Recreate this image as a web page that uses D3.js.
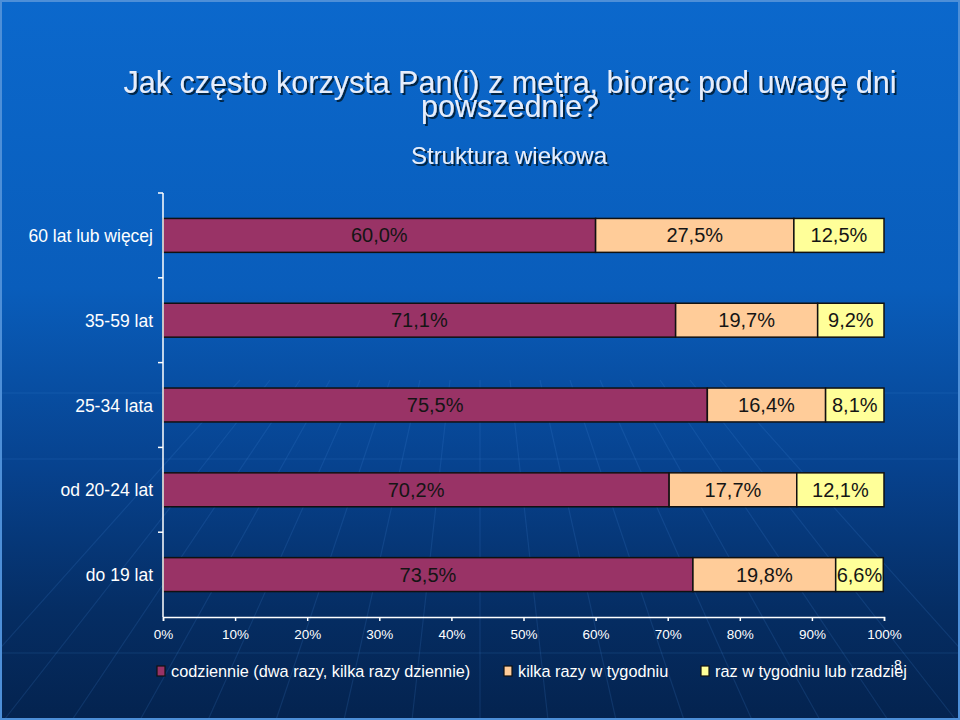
<!DOCTYPE html>
<html>
  <head>
    <meta charset="utf-8"/>
    <style>
    body {
      font-family: "Liberation Sans", Arial, sans-serif;
      margin: 0;
    }
    </style>
  </head>
  <body>
    <script src="https://d3js.org/d3.v7.min.js"></script>
    <script>
    var width = 960, height = 720;

    // data
    var categories = ["60 lat lub więcej", "35-59 lat", "25-34 lata", "od 20-24 lat", "do 19 lat"];
    var daily = [60.0, 71.1, 75.5, 70.2, 73.5];
    var weekly = [27.5, 19.7, 16.4, 17.7, 19.8];
    var rarely = [12.5, 9.2, 8.1, 12.1, 6.6];
    var seriesNames = ["codziennie (dwa razy, kilka razy dziennie)", "kilka razy w tygodniu", "raz w tygodniu lub rzadziej"];
    var colors = ["#993366", "#ffcc99", "#ffff99"];
    var xTicks = [0, 10, 20, 30, 40, 50, 60, 70, 80, 90, 100];

    var svg = d3.select("body").append("svg")
        .attr("width", width)
        .attr("height", height);

    var defs = svg.append("defs");
    var grad = defs.append("linearGradient")
        .attr("id", "bg")
        .attr("x1", 0).attr("y1", 0).attr("x2", 0).attr("y2", 1);
    grad.append("stop").attr("offset", "0%").attr("stop-color", "#0b68cc");
    grad.append("stop").attr("offset", "40%").attr("stop-color", "#095dbb");
    grad.append("stop").attr("offset", "65%").attr("stop-color", "#07428e");
    grad.append("stop").attr("offset", "85%").attr("stop-color", "#052d63");
    grad.append("stop").attr("offset", "100%").attr("stop-color", "#04234f");

    var shadow = defs.append("filter").attr("id", "shadow")
        .attr("x", "-5%").attr("y", "-20%").attr("width", "110%").attr("height", "140%");
    shadow.append("feDropShadow")
        .attr("dx", 2).attr("dy", 2).attr("stdDeviation", 0.6)
        .attr("flood-color", "#061a38").attr("flood-opacity", 0.9);

    svg.append("rect")
        .attr("width", width).attr("height", height)
        .attr("fill", "url(#bg)");

    // faint decorative lines of the slide template
    var deco = svg.append("g")
        .attr("stroke", "#4a90e0")
        .attr("stroke-width", 1.2);
    [393, 459, 653].forEach(function(y) {
      deco.append("line").attr("x1", 0).attr("x2", width).attr("y1", y).attr("y2", y)
          .attr("stroke-opacity", 0.18);
    });
    d3.range(-8, 9).forEach(function(i) {
      var xb = 480 + i * 60;
      deco.append("line")
          .attr("x1", xb + i * 8).attr("y1", 720)
          .attr("x2", xb - i * 30).attr("y2", 380)
          .attr("stroke-opacity", 0.16);
    });

    svg.append("rect")
        .attr("x", 1).attr("y", 1)
        .attr("width", width - 2).attr("height", height - 2)
        .attr("fill", "none")
        .attr("stroke", "#4d8fd8")
        .attr("stroke-width", 2);

    // titles
    var titles = svg.append("g")
        .attr("fill", "#e6eefc")
        .attr("text-anchor", "middle")
        .attr("filter", "url(#shadow)");
    titles.append("text")
        .attr("x", 510).attr("y", 93)
        .attr("font-size", 30.5)
        .text("Jak często korzysta Pan(i) z metra, biorąc pod uwagę dni");
    titles.append("text")
        .attr("x", 510).attr("y", 117)
        .attr("font-size", 30.5)
        .text("powszednie?");
    titles.append("text")
        .attr("x", 509).attr("y", 164)
        .attr("font-size", 24)
        .text("Struktura wiekowa");

    // chart
    var margin = {left: 163, right: 76, top: 193, bottom: 103};
    var x = d3.scaleLinear().domain([0, 100]).range([margin.left, width - margin.right]);
    var y = d3.scaleBand().domain(categories).range([margin.top, height - margin.bottom]);
    var barH = y.bandwidth() * 0.4;

    var rows = categories.map(function(c, i) {
      var vals = [daily[i], weekly[i], rarely[i]];
      var start = 0;
      return vals.map(function(v, k) {
        var seg = {cat: c, k: k, v: v, x0: start, x1: start + v};
        start += v;
        return seg;
      });
    });

    var g = svg.append("g");

    var segs = g.selectAll(".seg")
        .data(rows.flat())
      .enter().append("g")
        .attr("class", "seg");

    segs.append("rect")
        .attr("x", function(d) { return x(d.x0); })
        .attr("y", function(d) { return y(d.cat) + (y.bandwidth() - barH) / 2; })
        .attr("width", function(d) { return x(d.x1) - x(d.x0); })
        .attr("height", barH)
        .attr("fill", function(d) { return colors[d.k]; })
        .attr("stroke", "#111")
        .attr("stroke-width", 1.5);

    segs.append("text")
        .attr("x", function(d) { return (x(d.x0) + x(d.x1)) / 2; })
        .attr("y", function(d) { return y(d.cat) + y.bandwidth() / 2 + 7; })
        .attr("text-anchor", "middle")
        .attr("font-size", 20)
        .attr("fill", "#151515")
        .text(function(d) { return d.v.toFixed(1).replace(".", ",") + "%"; });

    // x axis
    var xAxis = svg.append("g")
        .attr("transform", "translate(0," + (height - margin.bottom) + ")")
        .call(d3.axisBottom(x).tickValues(xTicks).tickSize(4).tickPadding(8)
            .tickFormat(function(d) { return d + "%"; }));
    xAxis.select(".domain").attr("stroke", "#fff").attr("stroke-width", 1.5);
    xAxis.selectAll(".tick line").attr("stroke", "#fff").attr("stroke-width", 1.5);
    xAxis.selectAll(".tick text")
        .attr("fill", "#fff")
        .attr("font-size", 13.5)
        .attr("font-family", "Liberation Sans, Arial, sans-serif");

    // y axis: ticks at the band boundaries
    var yAxis = svg.append("g");
    yAxis.append("line")
        .attr("x1", margin.left).attr("x2", margin.left)
        .attr("y1", margin.top).attr("y2", height - margin.bottom)
        .attr("stroke", "#fff").attr("stroke-width", 1.5);
    yAxis.selectAll(".ytick")
        .data(categories)
      .enter().append("line")
        .attr("x1", margin.left - 5).attr("x2", margin.left)
        .attr("y1", function(d) { return y(d); })
        .attr("y2", function(d) { return y(d); })
        .attr("stroke", "#fff").attr("stroke-width", 1.5);
    yAxis.selectAll(".ylab")
        .data(categories)
      .enter().append("text")
        .attr("x", margin.left - 10)
        .attr("y", function(d) { return y(d) + y.bandwidth() / 2 + 6.5; })
        .attr("text-anchor", "end")
        .attr("font-size", 17.5)
        .attr("fill", "#fff")
        .text(function(d) { return d; });

    // legend
    var legendX = [157, 504, 701];
    var legend = svg.append("g");
    var items = legend.selectAll(".item")
        .data(seriesNames)
      .enter().append("g")
        .attr("transform", function(d, i) { return "translate(" + legendX[i] + ",671)"; });
    items.append("rect")
        .attr("x", 0).attr("y", -5)
        .attr("width", 8).attr("height", 10)
        .attr("fill", function(d, i) { return colors[i]; })
        .attr("stroke", "#111")
        .attr("stroke-width", 1.2);
    items.append("text")
        .attr("x", 14).attr("y", 6)
        .attr("font-size", 16.3)
        .attr("fill", "#fff")
        .text(function(d) { return d; });

    // slide number
    svg.append("text")
        .attr("x", 898).attr("y", 670)
        .attr("text-anchor", "middle")
        .attr("font-size", 14)
        .attr("fill", "#fff")
        .text("8");
    </script>
  </body>
</html>
